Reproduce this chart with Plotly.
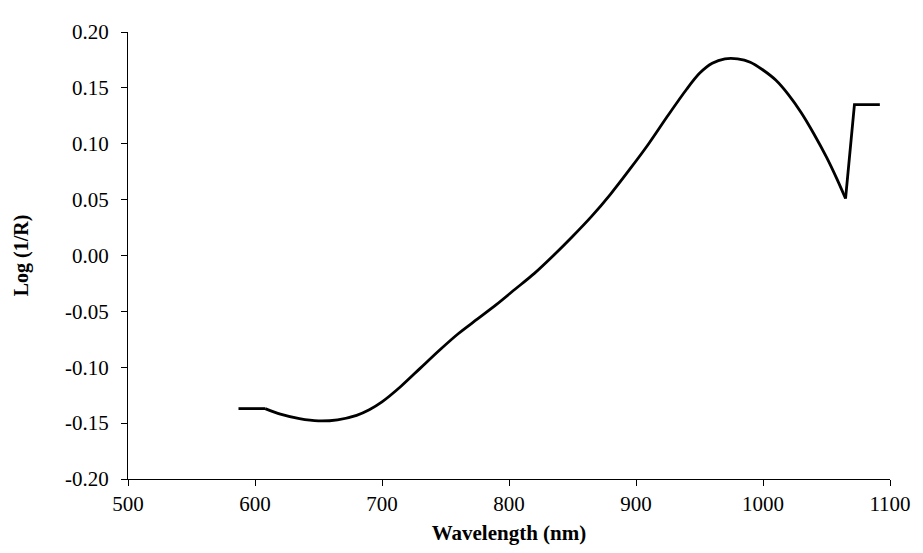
import plotly.graph_objects as go

wavelength = [587, 608, 620, 635, 650, 665, 680, 690, 700, 715, 730, 745, 760, 775,
              790, 805, 820, 835, 850, 865, 880, 895, 910, 925, 940, 950, 960, 970,
              980, 990, 1000, 1010, 1020, 1030, 1040, 1050, 1058, 1065, 1072, 1092]
log_inv_r = [-0.137, -0.137, -0.142, -0.146, -0.148, -0.147, -0.143, -0.138, -0.131,
             -0.117, -0.101, -0.085, -0.070, -0.057, -0.044, -0.030, -0.016, 0.000,
             0.017, 0.035, 0.055, 0.077, 0.100, 0.125, 0.149, 0.163, 0.172, 0.176,
             0.176, 0.173, 0.166, 0.157, 0.144, 0.128, 0.109, 0.088, 0.069, 0.051,
             0.135, 0.135]

x_ticks = [500, 600, 700, 800, 900, 1000, 1100]
y_ticks = [-0.20, -0.15, -0.10, -0.05, 0.00, 0.05, 0.10, 0.15, 0.20]
y_tick_text = ["%.2f" % v for v in y_ticks]

# split the spectrum: flat start and sharp end drawn straight, middle drawn smooth
i_start = 1
i_dip = 37
line_style = dict(color="black", width=2.8)

fig = go.Figure()
fig.add_trace(go.Scatter(x=wavelength[:i_start + 1], y=log_inv_r[:i_start + 1],
                         mode="lines", line=line_style, showlegend=False))
fig.add_trace(go.Scatter(x=wavelength[i_start:i_dip + 1], y=log_inv_r[i_start:i_dip + 1],
                         mode="lines", line=dict(shape="spline", smoothing=0.8, **line_style),
                         showlegend=False))
fig.add_trace(go.Scatter(x=wavelength[i_dip:], y=log_inv_r[i_dip:],
                         mode="lines", line=line_style, showlegend=False))

font = "Liberation Serif, Times New Roman, serif"
fig.update_layout(
    width=915, height=545,
    margin=dict(l=120, r=22, t=17, b=67),
    paper_bgcolor="white", plot_bgcolor="white",
    font=dict(family=font, size=21, color="black"),
    xaxis=dict(range=[500, 1100], tickvals=x_ticks, showgrid=False, zeroline=False,
               showline=True, linecolor="black", linewidth=1.2,
               ticks="outside", ticklen=6, tickcolor="black",
               title=dict(text="<b>Wavelength (nm)</b>", font=dict(size=21), standoff=10)),
    yaxis=dict(range=[-0.20, 0.20], tickvals=y_ticks, ticktext=y_tick_text,
               showgrid=False, zeroline=False,
               showline=True, linecolor="black", linewidth=1.2,
               ticks="outside", ticklen=6, tickcolor="black", ticklabelstandoff=8,
               title=dict(text="<b>Log (1/R)</b>", font=dict(size=20), standoff=30)),
)
fig.write_html("out.html")
